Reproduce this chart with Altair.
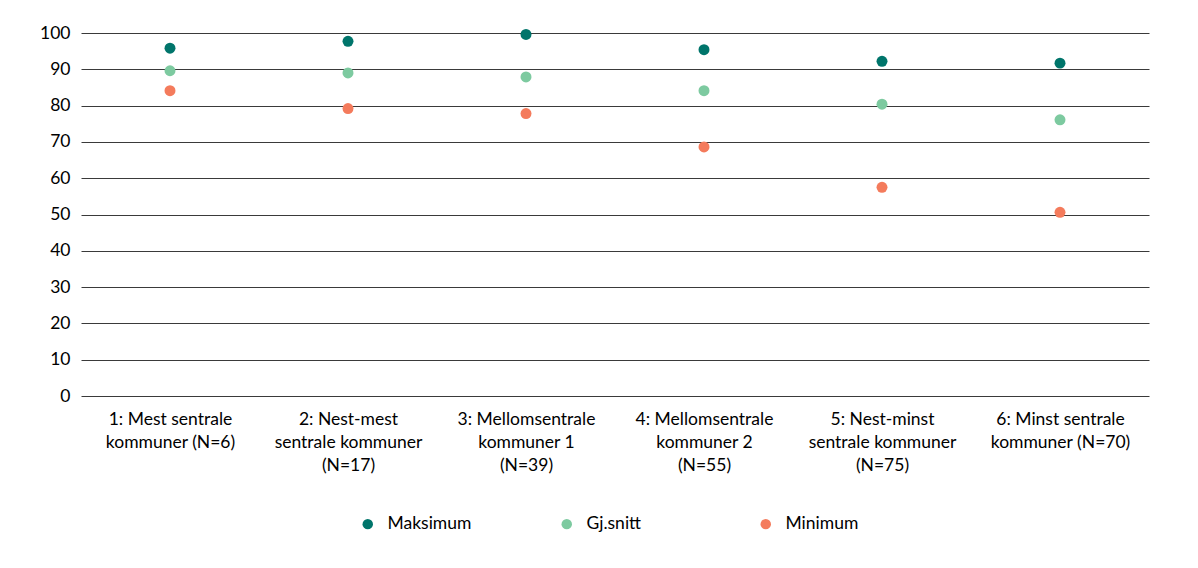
import altair as alt
import pandas as pd

categories = [
    "1: Mest sentrale|kommuner (N=6)",
    "2: Nest-mest|sentrale kommuner|(N=17)",
    "3: Mellomsentrale|kommuner 1|(N=39)",
    "4: Mellomsentrale|kommuner 2|(N=55)",
    "5: Nest-minst|sentrale kommuner|(N=75)",
    "6: Minst sentrale|kommuner (N=70)",
]
maksimum = [95.8, 97.7, 99.6, 95.4, 92.2, 91.7]
gjsnitt = [89.6, 89.0, 87.9, 84.1, 80.4, 76.1]
minimum = [84.1, 79.2, 77.8, 68.6, 57.5, 50.6]

series = ["Maksimum", "Gj.snitt", "Minimum"]
colors = ["#00756b", "#7dcaa0", "#f47b5c"]

rows = []
for name, vals in zip(series, [maksimum, gjsnitt, minimum]):
    for c, v in zip(categories, vals):
        rows.append({"kategori": c, "serie": name, "verdi": v})
df = pd.DataFrame(rows)

FONT = "Lato"

chart = alt.Chart(df).mark_circle(size=120, opacity=1).encode(
    x=alt.X("kategori:N", sort=categories,
            scale=alt.Scale(paddingInner=0, paddingOuter=0),
            axis=alt.Axis(title=None, labelAngle=0, labelExpr="split(datum.label, '|')",
                          labelFontSize=17.5, labelFont=FONT, labelColor="#000",
                          labelLineHeight=23, labelPadding=14, ticks=False, domain=False,
                          labelBaseline="top", labelOverlap=False, labelLimit=0)),
    y=alt.Y("verdi:Q", scale=alt.Scale(domain=[0, 100]),
            axis=alt.Axis(title=None, values=list(range(0, 101, 10)),
                          labelFontSize=17.5, labelFont=FONT, labelColor="#000",
                          labelPadding=11, ticks=False, domain=False, labelOverlap=False,
                          grid=True, gridColor="#3a3a3a", gridWidth=1)),
    color=alt.Color("serie:N", sort=series,
                    scale=alt.Scale(domain=series, range=colors),
                    legend=alt.Legend(title=None, orient="none", direction="horizontal",
                                      legendX=278, legendY=482, symbolType="circle",
                                      symbolSize=110, labelFontSize=17.5, labelFont=FONT,
                                      labelColor="#000", columnPadding=86,
                                      gridAlign="all", labelOffset=11)),
).properties(
    width=1068, height=363,
    autosize=alt.AutoSizeParams(type="none"),
    padding={"left": 73, "top": 25, "right": 30, "bottom": 160},
).configure(background="white", view=alt.ViewConfig(stroke=None))

chart.save("out.html", embed_options={"renderer": "svg", "actions": False})
